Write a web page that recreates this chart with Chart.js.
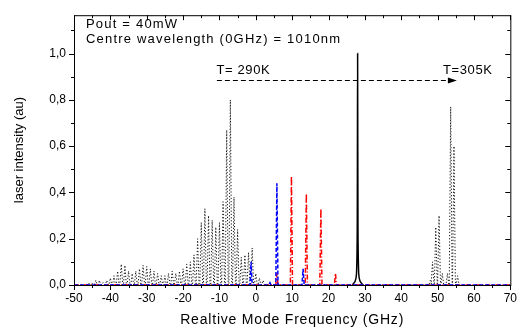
<!DOCTYPE html>
<html><head><meta charset="utf-8">
<script src="https://cdn.jsdelivr.net/npm/chart.js@4.4.1/dist/chart.umd.min.js"></script>
<style>html,body{margin:0;padding:0;background:#fff}#wrap{width:523px;height:330px}</style>
</head><body><div id="wrap"><canvas id="c" width="523" height="330"></canvas></div>
<script>
// ---- data ----
const xTickValues = [-50,-40,-30,-20,-10,0,10,20,30,40,50,60,70];
const yTickValues = [0,0.2,0.4,0.6,0.8,1.0];

// black dotted spectra (mode positions GHz, peak intensity)
const dottedModesX = [-46,-45,-44,-43,-42,-41,-40,-39,-38,-37,-36,-35,-34,-33,-32,-31,-30,-29,-28,-27,-26,-25,-24,-23,-22,-21,-20,-19,-18,-17,-16,-15,-14,-13,-12,-11,-10,-9,-8,-7,-6,-5,-4,-3,-2,-1,0,1,2,
  48,48.6,49.5,50.4,51.3,52.7,53.6,54.5,55.5];
const dottedModesY = [0.01,0.01,0.02,0.02,0.01,0.02,0.03,0.04,0.06,0.09,0.085,0.06,0.05,0.06,0.07,0.085,0.08,0.07,0.06,0.05,0.04,0.04,0.05,0.06,0.05,0.06,0.07,0.09,0.1,0.13,0.2,0.27,0.33,0.3,0.28,0.25,0.27,0.36,0.67,0.8,0.38,0.24,0.12,0.13,0.14,0.16,0.05,0.03,0.02,
  0.02,0.1,0.25,0.3,0.05,0.05,0.77,0.6,0.04];

// black solid spectrum (single mode near 28 GHz)
const solidX = [26.5,27.3,27.7,27.9,28.0,28.1,28.3,28.7,29.5];
const solidY = [0,0.015,0.05,0.25,1.0,0.25,0.05,0.015,0];

// blue dashed spectrum modes
const blueModesX = [-1.3,3.9,5.8,13.0];
const blueModesY = [0.10,0.01,0.44,0.07];

// red dash-dot spectrum modes
const redModesX = [5.8,9.8,13.9,17.9,21.9];
const redModesY = [0.05,0.47,0.395,0.33,0.05];

// annotations
const noteLines = ['Pout = 40mW','Centre wavelength (0GHz) = 1010nm'];
const arrowFrom = -10.7, arrowTo = 55.3, arrowY = 0.885;
const labelLeft = 'T= 290K', labelRight = 'T=305K';
const xTitle = 'Realtive Mode Frequency (GHz)';

// ---- build line data ----
function spikes(xs, ys, w, baseline) {
  const pts = [];
  if (baseline) pts.push({x:-50, y:0});
  xs.forEach((x,i)=>{ pts.push({x:x-w,y:0}); pts.push({x:x,y:ys[i]}); pts.push({x:x+w,y:0}); });
  if (baseline) pts.push({x:70, y:0});
  return pts;
}
const dottedData = spikes(dottedModesX, dottedModesY, 0.4, false);
const blueData = spikes(blueModesX, blueModesY, 0.3, true);
const redData = spikes(redModesX, redModesY, 0.3, true);
const solidData = solidX.map((x,i)=>({x, y:solidY[i]}));

const FONT = "'Liberation Sans', Arial, sans-serif";

const framePlugin = {
  id:'frame',
  afterDraw(chart){
    const {ctx, chartArea:a, scales:{x,y}} = chart;
    ctx.save();
    ctx.strokeStyle='#000'; ctx.lineWidth=1;
    ctx.strokeRect(a.left+0.5, a.top+0.5, a.right-a.left, a.bottom-a.top);
    ctx.beginPath();
    for (let v=-50; v<=70; v+=5){
      const px = Math.round(x.getPixelForValue(v))+0.5;
      const L = (v%10===0)?5:3;
      ctx.moveTo(px, a.bottom); ctx.lineTo(px, a.bottom+L);
      ctx.moveTo(px, a.top); ctx.lineTo(px, a.top+L);
    }
    for (let k=0; k<=11; k++){
      const v=k/10;
      const py = Math.round(y.getPixelForValue(v))+0.5;
      const L = (k%2===0)?5:3;
      ctx.moveTo(a.left, py); ctx.lineTo(a.left-L, py);
      ctx.moveTo(a.right, py); ctx.lineTo(a.right-L, py);
    }
    ctx.stroke();
    // annotations
    ctx.fillStyle='#000';
    ctx.font = '13px '+FONT;
    ctx.textBaseline='middle'; ctx.textAlign='left';
    try{ ctx.letterSpacing='1.2px'; }catch(e){}
    ctx.fillText(noteLines[0], x.getPixelForValue(-46.7), y.getPixelForValue(1.125));
    ctx.fillText(noteLines[1], x.getPixelForValue(-46.7), y.getPixelForValue(1.06));
    try{ ctx.letterSpacing='0.6px'; }catch(e){}
    ctx.fillText(labelLeft, x.getPixelForValue(-10.8), y.getPixelForValue(0.928));
    ctx.fillText(labelRight, x.getPixelForValue(51.5), y.getPixelForValue(0.928));
    // x axis title
    ctx.font = '14px '+FONT;
    try{ ctx.letterSpacing='0.8px'; }catch(e){}
    ctx.textAlign='center';
    ctx.fillText(xTitle, (a.left+a.right)/2, 320);
    try{ ctx.letterSpacing='0px'; }catch(e){}
    // dashed arrow
    const x0=x.getPixelForValue(arrowFrom), x1=x.getPixelForValue(arrowTo), py=Math.round(y.getPixelForValue(arrowY))+0.5;
    ctx.setLineDash([5,3]);
    ctx.beginPath(); ctx.moveTo(x0,py); ctx.lineTo(x1-7,py); ctx.stroke();
    ctx.setLineDash([]);
    ctx.beginPath(); ctx.moveTo(x1,py); ctx.lineTo(x1-9,py-3); ctx.lineTo(x1-9,py+3); ctx.closePath(); ctx.fill();
    ctx.restore();
  }
};

new Chart(document.getElementById('c'), {
  type:'line',
  data:{datasets:[
    {data:blueData, borderColor:'#0000ff', borderWidth:1.5, borderDash:[4,2], pointRadius:0, tension:0},
    {data:redData, borderColor:'#ff0000', borderWidth:1.5, borderDash:[5,2,1,2], pointRadius:0, tension:0},
    {data:dottedData, borderColor:'#111', borderWidth:1, borderDash:[1.2,2], pointRadius:0, tension:0},
    {data:solidData, borderColor:'#000', borderWidth:1.5, pointRadius:0, tension:0.2}
  ]},
  plugins:[framePlugin],
  options:{
    responsive:false, animation:false, devicePixelRatio:1,
    layout:{padding:{top:11,right:9,left:0,bottom:0}},
    plugins:{legend:{display:false}, tooltip:{enabled:false}},
    scales:{
      x:{type:'linear', min:-50, max:70,
        afterBuildTicks:s=>{s.ticks=xTickValues.map(v=>({value:v}));},
        afterFit:s=>{s.height=45;},
        grid:{display:false, drawTicks:false}, border:{display:false},
        ticks:{padding:6, color:'#000', maxRotation:0, autoSkip:false, font:{family:FONT,size:12}, callback:v=>String(v)},
        title:{display:false}
      },
      y:{type:'linear', min:0, max:1.166,
        afterBuildTicks:s=>{s.ticks=yTickValues.map(v=>({value:v}));},
        afterFit:s=>{s.width=74;},
        grid:{display:false, drawTicks:false}, border:{display:false},
        ticks:{padding:8, color:'#000', font:{family:FONT,size:12}, callback:v=>v.toFixed(1).replace('.',',')},
        title:{display:true, text:'laser intensity (au)', color:'#000', font:{family:FONT,size:13}, padding:{top:12,bottom:0}}
      }
    }
  }
});
</script></body></html>
